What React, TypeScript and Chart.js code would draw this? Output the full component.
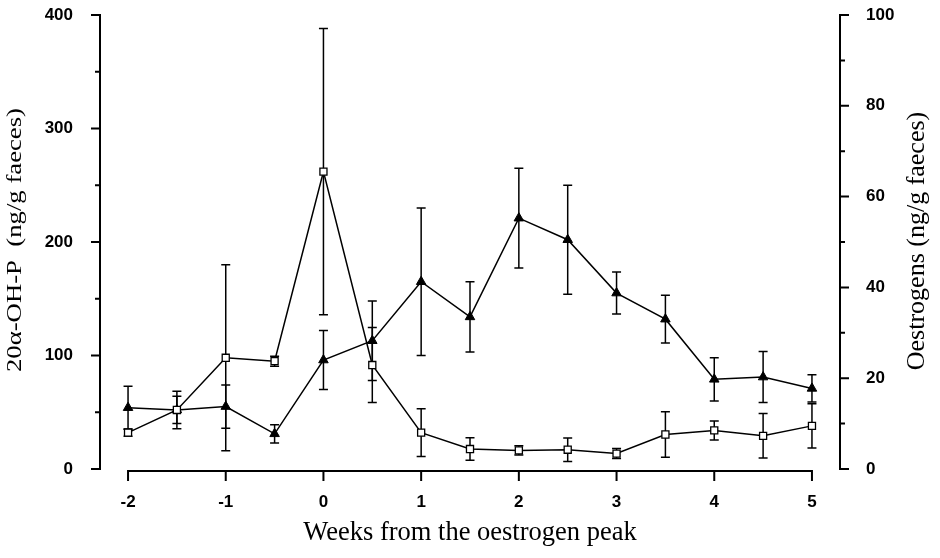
import { useEffect, useRef } from "react";
import { Chart, registerables } from "chart.js";
Chart.register(...registerables);

// ---- data ----
const weeks = [-2, -1.5, -1, -0.5, 0, 0.5, 1, 1.5, 2, 2.5, 3, 3.5, 4, 4.5, 5];
// 20α-OH-P (left axis, filled triangles)
const progValues = [54, 52, 55, 31, 96, 113, 165, 134, 221, 202, 155, 132, 79, 81, 71];
const progErrors = [19, 16.5, 19, 8, 26, 35, 65, 31, 44, 48, 18.5, 21, 19, 22.5, 12];
// Oestrogens (right axis, open squares)
const oestValues = [8, 13, 24.5, 23.75, 65.5, 22.9, 8, 4.4, 4.1, 4.25, 3.4, 7.6, 8.5, 7.3, 9.5];
const oestErrors = [0.8, 3, 20.5, 1.1, 31.5, 8.25, 5.25, 2.5, 1, 2.6, 1.1, 5, 2.1, 4.9, 4.85];

const xTicks = [-2, -1, 0, 1, 2, 3, 4, 5];
const leftMajor = [0, 100, 200, 300, 400];
const leftMinor = [50, 150, 250, 350];
const rightMajor = [0, 20, 40, 60, 80, 100];
const rightMinor = [10, 30, 50, 70, 90];

const xTitle = "Weeks from the oestrogen peak";
const leftTitle = "20\u03B1-OH-P  (ng/g faeces)";
const rightTitle = "Oestrogens (ng/g faeces)";

const tickFont = { family: '"Liberation Sans", Arial, sans-serif', size: 17, weight: "bold" as const };

const decorPlugin = {
  id: "decor",
  beforeDatasetsDraw(chart: any) {
    const ctx = chart.ctx;
    const xs = chart.scales.x;
    ctx.save();
    ctx.strokeStyle = "#000";
    ctx.lineWidth = 1.5;
    chart.data.datasets.forEach((ds: any) => {
      const ys = chart.scales[ds.yAxisID];
      const errs: number[] = ds.errors;
      ds.data.forEach((p: any, i: number) => {
        const e = errs[i];
        const px = xs.getPixelForValue(p.x);
        const yt = ys.getPixelForValue(p.y + e);
        const yb = ys.getPixelForValue(p.y - e);
        ctx.beginPath();
        ctx.moveTo(px, yt);
        ctx.lineTo(px, yb);
        ctx.moveTo(px - 4.5, yt);
        ctx.lineTo(px + 4.5, yt);
        ctx.moveTo(px - 4.5, yb);
        ctx.lineTo(px + 4.5, yb);
        ctx.stroke();
      });
    });
    ctx.restore();
  },
  afterDraw(chart: any) {
    const ctx = chart.ctx;
    const xs = chart.scales.x;
    const yl = chart.scales.y;
    const yr = chart.scales.y2;
    const a = chart.chartArea;
    ctx.save();
    ctx.strokeStyle = "#000";
    ctx.lineWidth = 2;
    ctx.lineCap = "butt";
    // left axis
    ctx.beginPath();
    ctx.moveTo(a.left, yl.getPixelForValue(400) - 1);
    ctx.lineTo(a.left, yl.getPixelForValue(0) + 1);
    leftMajor.forEach((v) => {
      const y = yl.getPixelForValue(v);
      ctx.moveTo(a.left, y);
      ctx.lineTo(a.left - 9, y);
    });
    leftMinor.forEach((v) => {
      const y = yl.getPixelForValue(v);
      ctx.moveTo(a.left, y);
      ctx.lineTo(a.left - 5, y);
    });
    // right axis
    ctx.moveTo(a.right, yr.getPixelForValue(100) - 1);
    ctx.lineTo(a.right, yr.getPixelForValue(0) + 1);
    rightMajor.forEach((v) => {
      const y = yr.getPixelForValue(v);
      ctx.moveTo(a.right, y);
      ctx.lineTo(a.right + 9, y);
    });
    rightMinor.forEach((v) => {
      const y = yr.getPixelForValue(v);
      ctx.moveTo(a.right, y);
      ctx.lineTo(a.right + 5, y);
    });
    // x axis
    const yx = a.bottom + 2;
    ctx.moveTo(xs.getPixelForValue(xTicks[0]) - 1, yx);
    ctx.lineTo(xs.getPixelForValue(xTicks[xTicks.length - 1]) + 1, yx);
    xTicks.forEach((v) => {
      const x = xs.getPixelForValue(v);
      ctx.moveTo(x, yx);
      ctx.lineTo(x, yx + 10);
    });
    ctx.stroke();

    // titles
    ctx.fillStyle = "#000";
    ctx.textAlign = "center";
    ctx.textBaseline = "alphabetic";
    ctx.font = '26.5px "Liberation Serif", "Times New Roman", serif';
    ctx.fillText(xTitle, (xs.getPixelForValue(-2) + xs.getPixelForValue(5)) / 2, 540);

    // left title (condensed glyph height)
    ctx.save();
    ctx.translate(21, 240);
    ctx.rotate(-Math.PI / 2);
    ctx.font = '20px "Liberation Serif", "Times New Roman", serif';
    const w = ctx.measureText(leftTitle).width;
    ctx.scale(264 / w, 1);
    ctx.fillText(leftTitle, 0, 0);
    ctx.restore();

    // right title
    ctx.save();
    ctx.translate(924, 241);
    ctx.rotate(-Math.PI / 2);
    ctx.font = '26px "Liberation Serif", "Times New Roman", serif';
    ctx.fillText(rightTitle, 0, 0);
    ctx.restore();

    ctx.restore();
  },
};

const fitY = (s: any) => {
  s.width = 100;
  s.paddingTop = 4;
  s.paddingBottom = 4;
};

export default function App() {
  const ref = useRef<HTMLCanvasElement | null>(null);
  useEffect(() => {
    if (!ref.current) return;
    const chart = new Chart(ref.current, {
      type: "line",
      data: {
        datasets: [
          {
            label: "Oestrogens",
            yAxisID: "y2",
            data: weeks.map((w, i) => ({ x: w, y: oestValues[i] })),
            errors: oestErrors,
            borderColor: "#000",
            borderWidth: 1.5,
            pointStyle: "rect",
            pointRadius: 5,
            pointBackgroundColor: "#fff",
            pointBorderColor: "#000",
            pointBorderWidth: 1.3,
            tension: 0,
          } as any,
          {
            label: "20α-OH-P",
            yAxisID: "y",
            data: weeks.map((w, i) => ({ x: w, y: progValues[i] })),
            errors: progErrors,
            borderColor: "#000",
            borderWidth: 1.5,
            pointStyle: "triangle",
            pointRadius: 5.5,
            pointBackgroundColor: "#000",
            pointBorderColor: "#000",
            pointBorderWidth: 1,
            tension: 0,
          } as any,
        ],
      },
      options: {
        responsive: false,
        animation: false,
        layout: { padding: { top: 15, left: 0, right: 0, bottom: 0 } },
        plugins: { legend: { display: false }, tooltip: { enabled: false } },
        scales: {
          x: {
            type: "linear",
            min: -2.287,
            max: 5.287,
            grid: { display: false },
            border: { display: false },
            ticks: { font: tickFont, color: "#000", padding: 15, callback: (v: any) => String(v) },
            afterBuildTicks: (s: any) => {
              s.ticks = xTicks.map((v) => ({ value: v }));
            },
            afterFit: (s: any) => {
              s.height = 89;
            },
          },
          y: {
            type: "linear",
            position: "left",
            min: 0,
            max: 400,
            grid: { display: false },
            border: { display: false },
            ticks: { font: tickFont, color: "#000", padding: 19, callback: (v: any) => String(v) },
            afterBuildTicks: (s: any) => {
              s.ticks = leftMajor.map((v) => ({ value: v }));
            },
            afterFit: fitY,
          },
          y2: {
            type: "linear",
            position: "right",
            min: 0,
            max: 100,
            grid: { display: false },
            border: { display: false },
            ticks: { font: tickFont, color: "#000", padding: 18, callback: (v: any) => String(v) },
            afterBuildTicks: (s: any) => {
              s.ticks = rightMajor.map((v) => ({ value: v }));
            },
            afterFit: fitY,
          },
        },
      },
      plugins: [decorPlugin],
    } as any);
    return () => chart.destroy();
  }, []);
  return (
    <div style={{ position: "absolute", left: 0, top: 0, width: 940, height: 558, background: "#fff" }}>
      <canvas ref={ref} width={940} height={558} style={{ display: "block" }} />
    </div>
  );
}
